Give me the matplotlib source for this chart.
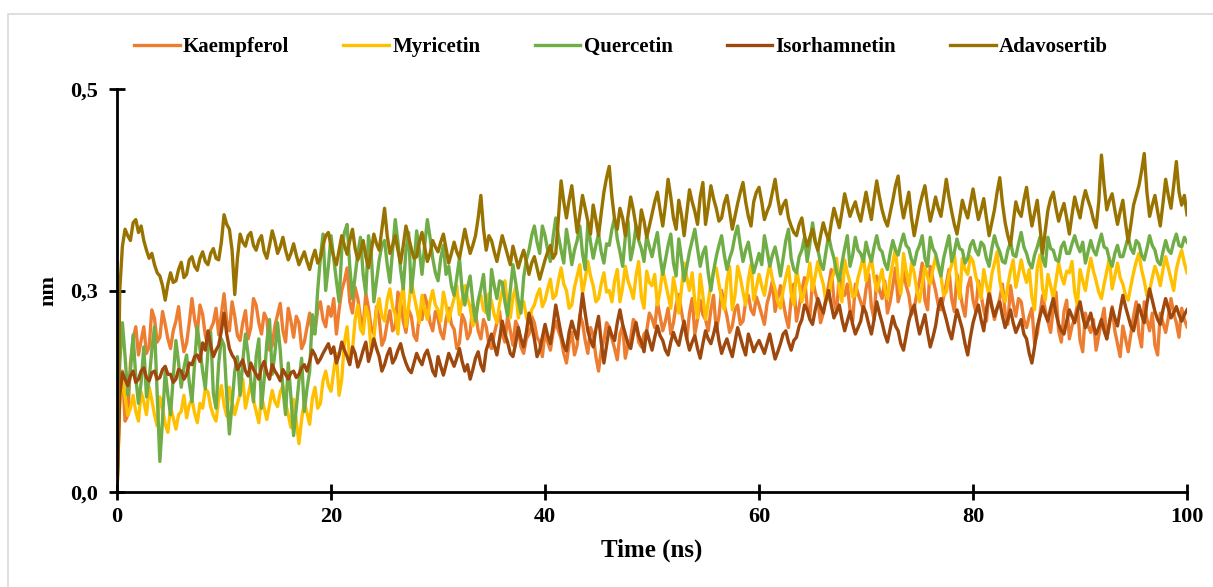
import numpy as np
import matplotlib
matplotlib.use("Agg")
import matplotlib.pyplot as plt
from matplotlib.patches import Rectangle

# RMSD traces, every 0.25 ns (values in pm, converted to nm below)
TIME_STEP = 0.25

kaempferol = [
    0, 120, 150, 88, 95, 160, 190, 205, 170, 188, 205, 172, 180, 226, 215, 186, 192, 224, 208, 190, 178, 200, 212, 230, 196, 174, 185, 210, 240, 214, 198, 232, 220, 194, 182, 202, 210, 228, 195, 220,
    246, 212, 200, 236, 218, 194, 188, 210, 225, 190, 204, 240, 232, 210, 196, 222, 214, 176, 182, 206, 220, 234, 200, 186, 228, 212, 192, 218, 210, 178, 186, 204, 222, 196, 200, 226, 236, 214, 205, 230,
    218, 240, 196, 226, 250, 262, 278, 236, 222, 254, 240, 216, 205, 246, 228, 204, 196, 230, 215, 182, 190, 210, 225, 200, 205, 248, 236, 212, 198, 226, 218, 194, 188, 220, 214, 244, 232, 210, 200, 224,
    215, 198, 190, 214, 228, 208, 202, 178, 185, 220, 212, 190, 198, 232, 222, 200, 190, 214, 205, 184, 178, 196, 210, 224, 196, 186, 218, 200, 182, 212, 204, 180, 172, 190, 196, 218, 210, 192, 186, 168,
    200, 186, 176, 198, 212, 200, 190, 172, 160, 184, 198, 170, 182, 220, 210, 188, 172, 204, 195, 168, 150, 176, 188, 210, 205, 190, 178, 164, 196, 206, 166, 182, 190, 214, 210, 186, 180, 196, 200, 222,
    215, 204, 236, 218, 200, 212, 228, 196, 210, 232, 245, 224, 205, 190, 222, 240, 196, 214, 238, 220, 214, 200, 226, 244, 200, 218, 250, 232, 218, 198, 206, 226, 232, 208, 212, 236, 244, 226, 220, 242,
    232, 220, 208, 234, 246, 262, 224, 240, 256, 236, 218, 204, 240, 258, 212, 230, 250, 266, 230, 216, 264, 248, 236, 210, 222, 240, 256, 276, 238, 222, 270, 252, 244, 258, 226, 212, 258, 246, 236, 226,
    252, 270, 230, 214, 268, 250, 240, 262, 222, 236, 256, 278, 236, 250, 274, 256, 244, 220, 228, 246, 262, 284, 238, 226, 280, 264, 250, 232, 226, 242, 258, 276, 240, 224, 270, 252, 232, 218, 254, 266,
    238, 224, 262, 244, 226, 212, 250, 232, 214, 228, 240, 258, 222, 208, 256, 234, 218, 240, 236, 214, 204, 218, 228, 184, 196, 220, 244, 226, 212, 198, 230, 248, 200, 186, 224, 238, 190, 206, 215, 232,
    188, 174, 222, 206, 198, 214, 176, 194, 212, 228, 190, 208, 230, 200, 184, 168, 206, 190, 174, 196, 218, 236, 196, 180, 236, 214, 200, 222, 182, 170, 222, 210, 198, 216, 240, 222, 210, 192, 228, 214,
    205,
]

myricetin = [
    0, 110, 140, 118, 95, 104, 120, 100, 88, 124, 112, 96, 130, 114, 96, 82, 118, 104, 84, 74, 105, 92, 78, 96, 100, 120, 92, 108, 115, 98, 86, 110, 104, 128, 124, 106, 95, 88, 116, 132,
    108, 94, 130, 112, 96, 110, 122, 140, 104, 120, 136, 114, 100, 86, 118, 104, 90, 108, 126, 112, 106, 124, 132, 110, 96, 80, 115, 88, 60, 90, 112, 98, 84, 116, 130, 104, 110, 138, 150, 132,
    125, 150, 172, 120, 140, 186, 205, 160, 176, 214, 232, 202, 196, 230, 218, 176, 190, 226, 240, 218, 212, 238, 252, 230, 220, 196, 238, 256, 205, 230, 262, 244, 228, 210, 244, 226, 214, 236, 250, 232,
    226, 212, 248, 232, 212, 228, 240, 256, 220, 238, 256, 240, 230, 206, 214, 236, 244, 226, 222, 246, 236, 220, 210, 234, 250, 262, 228, 216, 242, 254, 216, 230, 236, 218, 206, 226, 232, 244, 252, 230,
    238, 252, 264, 240, 244, 262, 278, 258, 250, 228, 232, 254, 268, 282, 246, 264, 286, 268, 256, 236, 240, 258, 272, 248, 250, 236, 262, 276, 236, 254, 280, 262, 252, 240, 268, 286, 242, 228, 274, 260,
    256, 270, 232, 250, 276, 260, 244, 228, 266, 248, 222, 252, 284, 266, 250, 272, 236, 216, 270, 244, 214, 236, 258, 274, 278, 258, 240, 226, 262, 280, 226, 244, 280, 266, 248, 232, 264, 282, 238, 254,
    270, 256, 244, 266, 282, 264, 252, 236, 228, 250, 266, 280, 246, 232, 276, 258, 236, 250, 262, 284, 250, 268, 286, 270, 258, 236, 240, 262, 272, 290, 250, 236, 288, 272, 260, 242, 244, 266, 278, 294,
    262, 278, 290, 266, 250, 262, 276, 252, 240, 266, 284, 302, 264, 246, 296, 274, 256, 284, 272, 250, 236, 258, 280, 266, 258, 276, 292, 278, 268, 244, 248, 270, 282, 296, 262, 240, 290, 276, 270, 292,
    286, 268, 256, 240, 276, 258, 244, 270, 284, 298, 262, 246, 236, 256, 274, 288, 254, 270, 288, 272, 260, 276, 242, 226, 278, 294, 252, 238, 270, 256, 240, 262, 284, 268, 258, 274, 272, 286, 248, 232,
    276, 262, 250, 272, 290, 274, 262, 248, 240, 258, 274, 290, 252, 268, 284, 266, 258, 244, 238, 256, 272, 286, 296, 276, 262, 244, 250, 266, 280, 270, 256, 276, 292, 278, 264, 250, 276, 290, 300, 284,
    272,
]

quercetin = [
    0, 160, 210, 168, 120, 150, 195, 142, 110, 136, 180, 118, 140, 176, 205, 120, 38, 90, 150, 120, 96, 142, 188, 160, 130, 154, 170, 136, 112, 160, 205, 178, 150, 128, 176, 198, 122, 104, 160, 190,
    182, 120, 72, 110, 150, 168, 120, 162, 196, 170, 138, 112, 168, 190, 104, 140, 186, 214, 146, 172, 210, 176, 128, 96, 160, 118, 70, 104, 138, 166, 100, 128, 150, 220, 196, 250, 290, 320, 250, 280,
    318, 290, 262, 236, 300, 322, 332, 280, 240, 268, 296, 316, 270, 246, 318, 296, 236, 262, 288, 306, 312, 282, 260, 300, 338, 310, 276, 252, 300, 322, 248, 280, 324, 300, 270, 306, 338, 316, 290, 272,
    262, 290, 306, 270, 280, 256, 244, 266, 290, 250, 232, 254, 268, 236, 212, 238, 252, 270, 230, 214, 276, 256, 240, 262, 260, 236, 218, 250, 282, 260, 238, 222, 266, 288, 300, 318, 330, 310, 296, 330,
    318, 300, 286, 316, 340, 318, 300, 284, 326, 306, 282, 300, 312, 330, 296, 276, 334, 310, 290, 306, 320, 298, 284, 308, 306, 326, 340, 314, 298, 280, 316, 336, 288, 304, 330, 312, 302, 286, 318, 304,
    292, 308, 322, 292, 270, 288, 306, 320, 284, 268, 314, 290, 262, 280, 298, 312, 326, 302, 280, 296, 304, 272, 250, 274, 292, 306, 318, 294, 276, 290, 300, 318, 330, 306, 286, 300, 310, 290, 272, 284,
    296, 282, 318, 300, 280, 294, 304, 288, 268, 290, 312, 326, 290, 276, 272, 292, 300, 316, 286, 308, 334, 312, 300, 284, 276, 298, 318, 302, 290, 272, 262, 284, 302, 318, 280, 294, 316, 300, 296, 286,
    310, 296, 286, 304, 318, 302, 298, 284, 276, 296, 312, 300, 294, 308, 320, 306, 302, 288, 282, 298, 306, 318, 290, 280, 316, 302, 296, 282, 268, 290, 304, 318, 286, 298, 314, 302, 300, 284, 290, 306,
    312, 300, 294, 310, 306, 290, 280, 302, 318, 306, 298, 286, 284, 300, 310, 294, 292, 308, 322, 304, 296, 284, 278, 294, 304, 316, 290, 280, 316, 302, 300, 288, 286, 304, 310, 296, 296, 308, 318, 306,
    298, 310, 284, 298, 312, 300, 294, 308, 320, 304, 302, 288, 280, 296, 306, 292, 292, 304, 316, 302, 296, 312, 308, 294, 288, 302, 318, 306, 300, 286, 282, 298, 312, 300, 296, 310, 320, 306, 304, 316,
    310,
]

isorhamnetin = [
    0, 120, 148, 140, 132, 144, 150, 136, 140, 150, 154, 142, 138, 148, 150, 140, 142, 152, 156, 146, 146, 136, 140, 152, 150, 140, 146, 160, 158, 168, 170, 162, 185, 176, 200, 182, 168, 176, 182, 200,
    222, 196, 178, 170, 165, 152, 158, 164, 150, 144, 160, 152, 146, 140, 155, 162, 148, 140, 158, 150, 145, 138, 152, 146, 140, 148, 150, 142, 146, 154, 158, 150, 162, 176, 170, 160, 165, 172, 178, 184,
    172, 180, 160, 170, 186, 176, 168, 158, 180, 172, 155, 164, 176, 186, 162, 174, 190, 178, 168, 150, 158, 170, 178, 160, 166, 176, 184, 170, 160, 152, 148, 160, 172, 164, 158, 170, 176, 164, 150, 144,
    168, 156, 145, 158, 172, 164, 156, 166, 178, 162, 150, 158, 140, 152, 166, 174, 158, 150, 176, 186, 196, 182, 170, 190, 212, 196, 186, 172, 168, 184, 204, 190, 180, 198, 222, 206, 190, 168, 176, 192,
    208, 194, 184, 206, 232, 214, 196, 182, 175, 198, 212, 200, 190, 216, 246, 222, 200, 188, 180, 202, 218, 186, 160, 182, 204, 194, 188, 210, 226, 208, 196, 184, 178, 196, 210, 194, 186, 174, 200, 188,
    176, 192, 206, 194, 188, 176, 170, 186, 198, 188, 182, 198, 212, 190, 176, 186, 194, 178, 166, 184, 200, 190, 184, 196, 210, 188, 172, 182, 190, 178, 168, 186, 204, 192, 180, 170, 196, 186, 174, 182,
    188, 180, 172, 184, 196, 180, 165, 174, 184, 196, 200, 186, 176, 188, 192, 206, 214, 232, 226, 214, 208, 226, 240, 230, 222, 238, 250, 232, 216, 224, 232, 214, 200, 212, 224, 208, 196, 204, 212, 230,
    222, 208, 196, 214, 236, 222, 210, 196, 186, 202, 218, 206, 200, 184, 176, 194, 212, 224, 232, 212, 196, 208, 220, 198, 180, 192, 206, 228, 240, 226, 214, 200, 190, 208, 226, 214, 202, 184, 170, 192,
    210, 222, 232, 214, 200, 226, 246, 230, 218, 228, 236, 218, 204, 214, 226, 210, 198, 206, 214, 196, 190, 172, 160, 180, 205, 218, 230, 220, 212, 228, 240, 222, 208, 200, 196, 212, 226, 218, 210, 224,
    236, 218, 204, 212, 222, 206, 196, 204, 214, 200, 190, 210, 228, 216, 206, 226, 244, 230, 218, 206, 200, 216, 232, 220, 210, 234, 252, 238, 224, 214, 208, 226, 240, 228, 216, 222, 230, 220, 212, 220,
    226,
]

adavosertib = [
    0, 250, 305, 326, 318, 312, 334, 338, 322, 330, 312, 300, 290, 296, 282, 272, 268, 256, 238, 258, 272, 260, 262, 276, 285, 266, 270, 288, 292, 280, 275, 290, 298, 286, 282, 296, 302, 290, 288, 310,
    344, 332, 326, 300, 245, 290, 320, 310, 305, 318, 322, 306, 300, 312, 318, 298, 290, 306, 324, 312, 296, 304, 316, 300, 288, 296, 308, 294, 282, 290, 298, 286, 276, 290, 300, 284, 290, 306, 318, 322,
    305, 292, 282, 300, 318, 306, 295, 312, 326, 302, 288, 298, 312, 292, 278, 298, 320, 308, 300, 326, 352, 318, 296, 306, 318, 300, 284, 306, 330, 316, 302, 290, 292, 310, 322, 304, 286, 296, 312, 304,
    298, 310, 320, 302, 284, 296, 310, 298, 290, 308, 326, 310, 296, 306, 318, 340, 368, 326, 300, 318, 312, 298, 286, 302, 318, 306, 294, 282, 305, 292, 278, 290, 300, 286, 270, 284, 292, 278, 264, 276,
    288, 298, 306, 290, 296, 340, 386, 360, 340, 362, 380, 350, 322, 344, 368, 352, 336, 320, 356, 338, 318, 346, 372, 390, 404, 366, 338, 326, 352, 340, 318, 342, 366, 350, 330, 314, 350, 336, 316, 330,
    345, 360, 372, 350, 330, 356, 388, 366, 340, 326, 362, 344, 318, 346, 375, 360, 348, 332, 366, 384, 332, 354, 380, 364, 352, 336, 340, 358, 368, 348, 326, 342, 358, 372, 384, 360, 342, 330, 360, 372,
    378, 360, 338, 348, 356, 372, 388, 364, 345, 356, 362, 340, 330, 322, 318, 332, 340, 318, 305, 316, 326, 310, 300, 318, 334, 322, 312, 334, 352, 340, 328, 348, 370, 356, 342, 352, 360, 346, 336, 354,
    372, 354, 338, 364, 386, 366, 350, 338, 330, 346, 362, 380, 392, 360, 340, 356, 372, 340, 318, 336, 354, 368, 380, 356, 336, 350, 366, 352, 342, 364, 388, 366, 348, 332, 320, 340, 362, 350, 340, 358,
    376, 356, 338, 350, 364, 340, 318, 334, 350, 372, 390, 358, 334, 318, 306, 334, 360, 348, 342, 362, 378, 352, 330, 346, 362, 330, 296, 324, 350, 364, 372, 352, 336, 348, 358, 340, 320, 344, 366, 352,
    340, 360, 374, 362, 352, 338, 328, 360, 418, 380, 350, 362, 370, 350, 332, 348, 362, 334, 310, 332, 356, 368, 380, 398, 420, 372, 342, 356, 368, 348, 330, 358, 388, 368, 352, 380, 410, 372, 356, 368,
    344,
]

series_names = ["Kaempferol", "Myricetin", "Quercetin", "Isorhamnetin", "Adavosertib"]
series_values = [kaempferol, myricetin, quercetin, isorhamnetin, adavosertib]
colors = ["#ED7D31", "#FFC000", "#70AD47", "#9E480E", "#997300"]

x_ticks = [0, 20, 40, 60, 80, 100]
y_ticks = [0.0, 0.25, 0.5]
y_tick_labels = ["0,0", "0,3", "0,5"]

for name, vals in zip(series_names, series_values):
    assert len(vals) == 401, (name, len(vals))

plt.rcParams["font.family"] = ["Liberation Serif", "DejaVu Serif"]
plt.rcParams["font.weight"] = "bold"

fig = plt.figure(figsize=(12.13, 5.87), dpi=100)
fig.patches.append(Rectangle((0.0066, -0.05), 1.1, 1.026, transform=fig.transFigure,
                             fill=False, edgecolor="#d9d9d9", linewidth=1.2))
ax = fig.add_axes([0.0965, 0.1618, 0.8821, 0.6866])

for name, vals, col in zip(series_names, series_values, colors):
    v = np.array(vals) / 1000.0
    t = np.arange(len(v)) * TIME_STEP
    ax.plot(t, v, color=col, lw=2.4, label=name)

ax.set_xlim(0, 100)
ax.set_ylim(0, 0.5)
ax.set_xticks(x_ticks)
ax.set_xticklabels([str(x) for x in x_ticks])
ax.set_yticks(y_ticks)
ax.set_yticklabels(y_tick_labels)
for s in ["top", "right"]:
    ax.spines[s].set_visible(False)
for s in ["left", "bottom"]:
    ax.spines[s].set_linewidth(2.0)
    ax.spines[s].set_zorder(10)
ax.tick_params(axis="both", direction="inout", length=12, width=2.0, labelsize=16)
ax.tick_params(axis="y", pad=8)
ax.tick_params(axis="x", pad=5)
ax.set_xlabel("Time (ns)", fontsize=18, fontweight="bold", labelpad=8)
ax.set_ylabel("nm", fontsize=16, fontweight="bold", labelpad=8)

fig.legend(loc="center", bbox_to_anchor=(0.512, 0.92), ncol=5, frameon=False,
           fontsize=15, handlelength=2.2, handletextpad=0.15, columnspacing=2.6)

fig.savefig("out.png", dpi=100, facecolor="white")
